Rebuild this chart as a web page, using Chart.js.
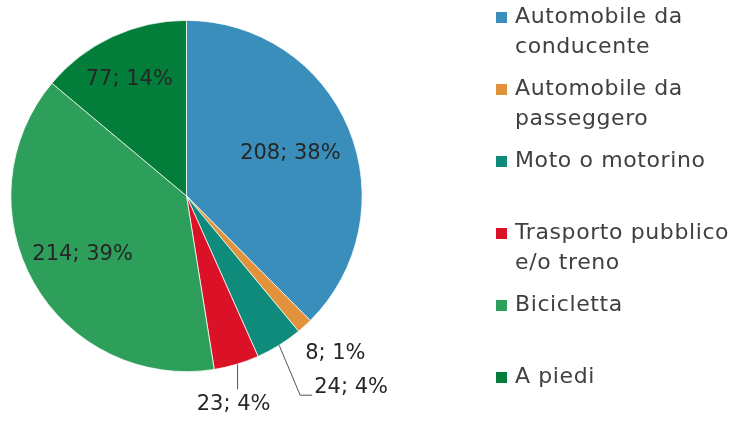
<!DOCTYPE html>
<html>
<head>
<meta charset="utf-8">
<script src="https://cdn.jsdelivr.net/npm/chart.js@4/dist/chart.umd.min.js"></script>
<style>
  html, body { margin: 0; padding: 0; background: #fff; }
  canvas { display: block; }
</style>
</head>
<body>
<canvas id="chart" width="735" height="421"></canvas>
<script>
const categories = ['Automobile da conducente', 'Automobile da passeggero', 'Moto o motorino',
  'Trasporto pubblico e/o treno', 'Bicicletta', 'A piedi'];
const legendLines = [['Automobile da', 'conducente'], ['Automobile da', 'passeggero'], ['Moto o motorino'],
  ['Trasporto pubblico', 'e/o treno'], ['Bicicletta'], ['A piedi']];
const counts = [208, 8, 24, 23, 214, 77];
const colors = ['#3a8ebb', '#e2923a', '#0e8b7a', '#db1128', '#2e9f5a', '#037d3a'];

const FONT = '"DejaVu Sans", sans-serif';
const total = counts.reduce((a, b) => a + b, 0);

// value; percent labels, some inside the slice, the small ones outside with a leader
const labelPlugin = {
  id: 'sliceLabels',
  afterDatasetsDraw(chart) {
    const ctx = chart.ctx;
    const arcs = chart.getDatasetMeta(0).data;
    ctx.save();
    ctx.font = '21px ' + FONT;
    ctx.fillStyle = '#262626';
    ctx.strokeStyle = '#555';
    ctx.lineWidth = 1;
    arcs.forEach((arc, i) => {
      const v = counts[i];
      const text = v + '; ' + Math.round(v / total * 100) + '%';
      const mid = (arc.startAngle + arc.endAngle) / 2;
      const r = arc.outerRadius;
      const px = f => arc.x + Math.cos(mid) * r * f;
      const py = f => arc.y + Math.sin(mid) * r * f;
      const share = v / total;
      ctx.textBaseline = 'middle';
      if (share > 0.1) {
        const f = i === 5 ? 0.73 : (i === 4 ? 0.68 : 0.64);
        ctx.textAlign = 'center';
        ctx.fillText(text, px(f) - (i === 5 ? 3 : 0), py(f));
      } else if (i === 1) {
        ctx.textAlign = 'center';
        ctx.fillText(text, px(1.21) + 6, py(1.21));
      } else if (i === 2) {
        const x0 = px(1), y0 = py(1);
        const x1 = x0 + 21, y1 = y0 + 50;
        ctx.beginPath();
        ctx.moveTo(x0, y0);
        ctx.lineTo(x1, y1);
        ctx.lineTo(x1 + 12, y1);
        ctx.stroke();
        ctx.textAlign = 'left';
        ctx.fillText(text, x1 + 14, y1 - 8);
      } else {
        const x0 = px(1), y0 = py(1);
        ctx.beginPath();
        ctx.moveTo(x0 + 1, y0);
        ctx.lineTo(x0 + 1, y0 + 25);
        ctx.stroke();
        ctx.textAlign = 'center';
        ctx.fillText(text, x0 - 3, y0 + 40);
      }
    });
    ctx.restore();
  }
};

// legend on the right with wrapped entries
const legendPlugin = {
  id: 'sideLegend',
  afterDraw(chart) {
    const ctx = chart.ctx;
    ctx.save();
    ctx.font = '22px ' + FONT;
    ctx.letterSpacing = '0.6px';
    ctx.textAlign = 'left';
    ctx.textBaseline = 'alphabetic';
    legendLines.forEach((lines, i) => {
      const base = 23 + 72 * i;
      ctx.fillStyle = colors[i];
      ctx.fillRect(496, base - 11, 11, 11);
      ctx.fillStyle = '#404040';
      lines.forEach((ln, j) => ctx.fillText(ln, 515, base + 30 * j));
    });
    ctx.restore();
  }
};

new Chart(document.getElementById('chart'), {
  type: 'pie',
  data: {
    labels: categories,
    datasets: [{
      data: counts,
      backgroundColor: colors,
      borderColor: '#ffffff',
      borderWidth: 0.75
    }]
  },
  options: {
    responsive: false,
    animation: false,
    layout: { padding: { left: 10, top: 20, right: 372, bottom: 49 } },
    plugins: {
      legend: { display: false },
      tooltip: { enabled: false }
    }
  },
  plugins: [labelPlugin, legendPlugin]
});
</script>
</body>
</html>
